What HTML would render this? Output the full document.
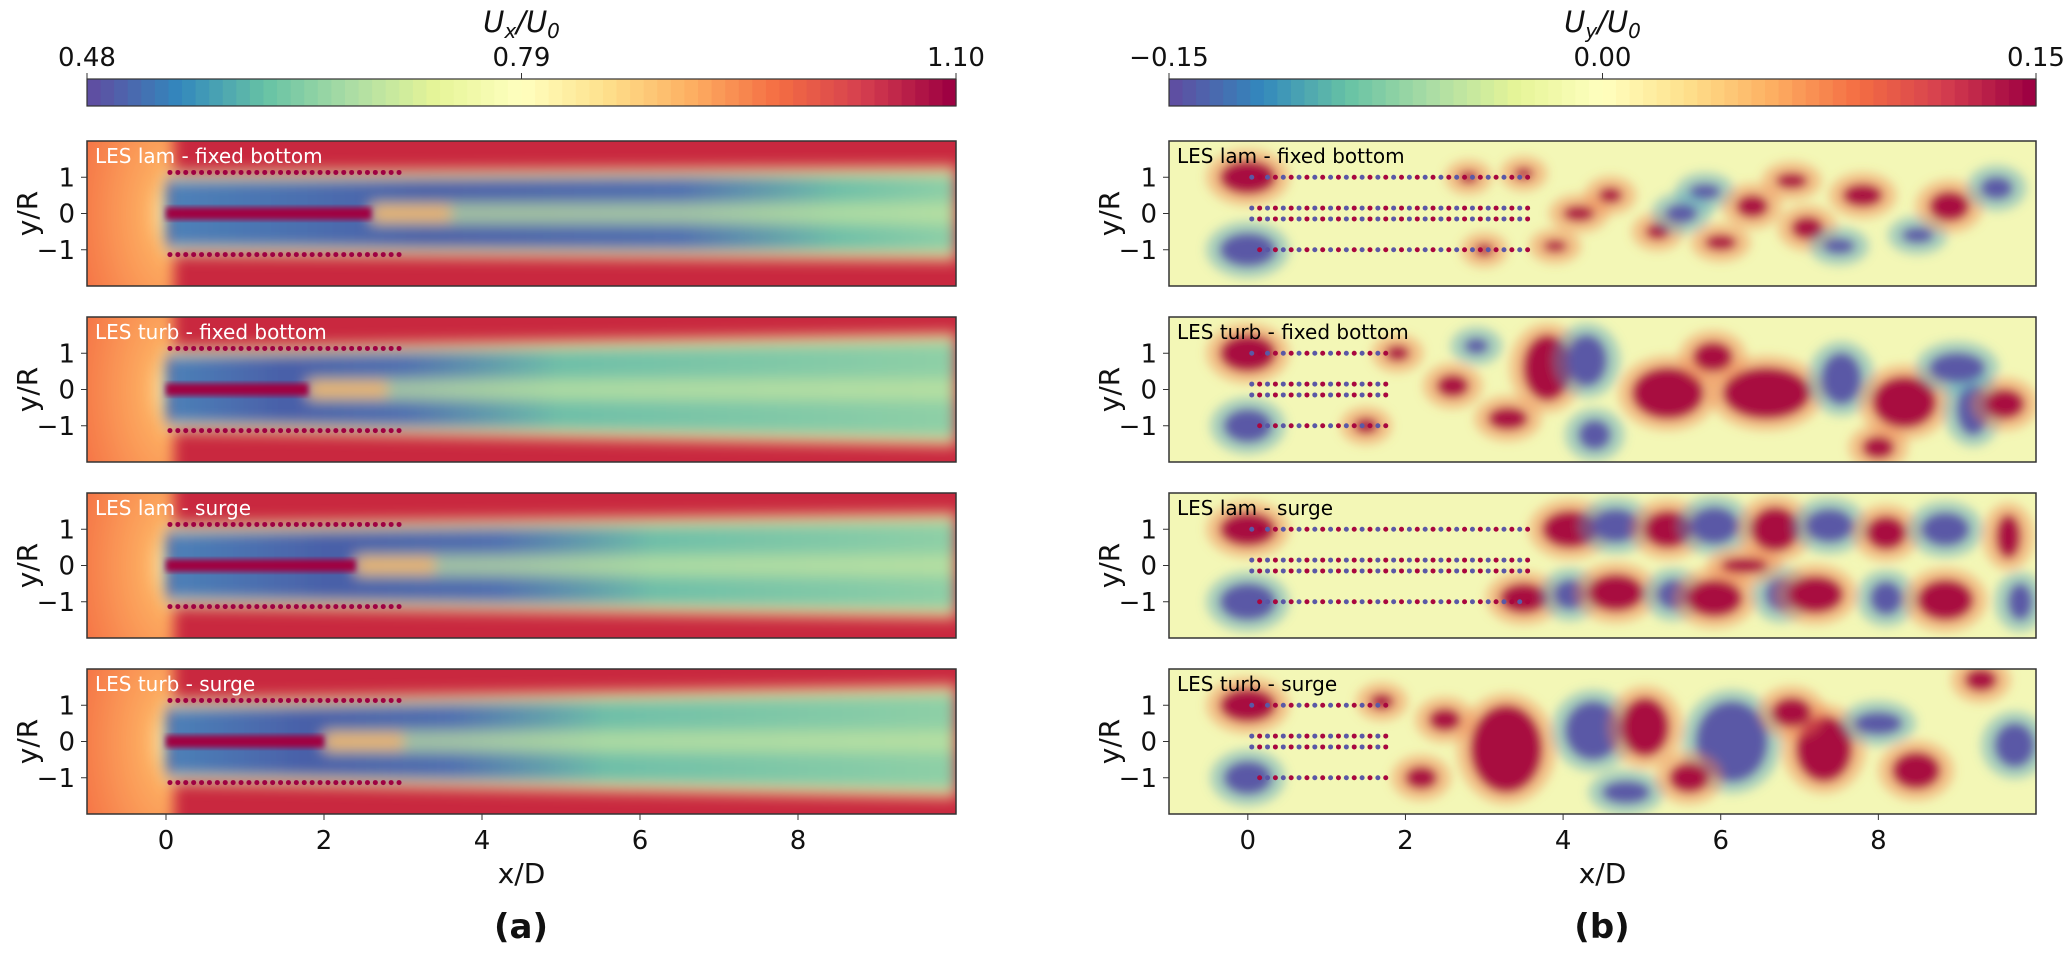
<!DOCTYPE html>
<html><head><meta charset="utf-8"><style>
html,body{margin:0;padding:0;background:#fff;}
body{width:2067px;height:949px;overflow:hidden;font-family:"DejaVu Sans","Liberation Sans",sans-serif;}
svg text{font-family:"DejaVu Sans","Liberation Sans",sans-serif;}
</style></head><body>
<svg id="fig" xmlns="http://www.w3.org/2000/svg" width="2067" height="949" viewBox="0 0 2067 949">
<defs>
<filter id="blur" x="-20%" y="-20%" width="140%" height="140%"><feGaussianBlur stdDeviation="7"/></filter>
<filter id="blur2" x="-20%" y="-20%" width="140%" height="140%"><feGaussianBlur stdDeviation="3"/></filter>
<filter id="blur3" x="-20%" y="-20%" width="140%" height="140%"><feGaussianBlur stdDeviation="5"/></filter>
<radialGradient id="haloL" cx="1" cy="0.5" r="1"><stop offset="0" stop-color="#ffffbf"/><stop offset="0.25" stop-color="#fdae61"/><stop offset="1" stop-color="#f46d43"/></radialGradient>
</defs>
<g id="root"></g>
</svg>
<script>
// axis data
const xTicks=[0,2,4,6,8];
const yTicks=[1,0,-1];
const uxTicks=["0.48","0.79","1.10"];
const uyTicks=["\u22120.15","0.00","0.15"];
const leftTitles=["LES lam - fixed bottom","LES turb - fixed bottom","LES lam - surge","LES turb - surge"];
// wake extents per left panel: x where blue core turns teal
const wakeBlueEnd=[6.5,3.0,4.2,3.6];
const jetEnd=[2.6,1.8,2.4,2.0];
// right-panel blobs [x/D, y/R, rx, ry, sign]
const blobsR=[
 [[0,1,0.35,0.45,1],[0,-1,0.35,0.45,-1],[4.6,0.5,0.15,0.2,1],[5.8,0.6,0.2,0.2,-1],[6.4,0.2,0.2,0.3,1],[7.1,-0.4,0.2,0.3,1],[7.8,0.5,0.25,0.3,1],[8.5,-0.6,0.2,0.2,-1],[8.9,0.2,0.25,0.4,1],[9.5,0.7,0.2,0.3,-1],[5.2,-0.5,0.15,0.2,1],[6.9,0.9,0.2,0.2,1],[7.5,-0.9,0.2,0.2,-1],[2.8,1.0,0.12,0.15,1],[3.5,1.1,0.12,0.15,1],[3.0,-1.0,0.12,0.15,1],[3.9,-0.9,0.15,0.15,1],[4.2,0.0,0.2,0.2,1],[5.5,0.0,0.2,0.25,-1],[6.0,-0.8,0.2,0.2,1]],
 [[0,1,0.35,0.5,1],[0,-1,0.3,0.45,-1],[3.8,0.6,0.3,0.9,1],[4.3,0.8,0.25,0.7,-1],[5.33,-0.1,0.45,0.7,1],[6.58,-0.1,0.55,0.7,1],[7.53,0.3,0.25,0.7,-1],[8.33,-0.35,0.4,0.7,1],[9.2,-0.55,0.2,0.7,-1],[9.6,-0.4,0.25,0.4,1],[4.4,-1.25,0.2,0.4,-1],[3.3,-0.8,0.25,0.3,1],[5.9,0.9,0.25,0.4,1],[9.0,0.6,0.35,0.4,-1],[8.0,-1.6,0.2,0.3,1],[2.6,0.1,0.2,0.3,1],[1.5,-1.0,0.15,0.2,1],[1.9,1.0,0.15,0.2,1],[2.9,1.2,0.15,0.2,-1]],
 [[0,1,0.35,0.45,1],[0,-1,0.35,0.5,-1],[4.09,1.0,0.35,0.5,1],[4.67,1.1,0.3,0.45,-1],[5.33,1.0,0.3,0.5,1],[5.92,1.1,0.3,0.5,-1],[6.69,1.0,0.3,0.6,1],[7.38,1.1,0.3,0.45,-1],[8.1,0.9,0.25,0.45,1],[8.85,1.0,0.3,0.45,-1],[9.65,0.8,0.15,0.6,1],[3.5,-0.9,0.3,0.4,1],[4.09,-0.8,0.2,0.4,-1],[4.67,-0.75,0.35,0.5,1],[5.4,-0.8,0.2,0.4,-1],[5.92,-0.9,0.35,0.5,1],[6.77,-0.8,0.2,0.45,-1],[7.2,-0.8,0.35,0.5,1],[8.1,-0.9,0.2,0.45,-1],[8.85,-0.95,0.35,0.55,1],[9.8,-1.0,0.15,0.5,-1],[6.3,0.0,0.3,0.2,1]],
 [[0,1,0.35,0.45,1],[0,-1,0.3,0.45,-1],[3.28,-0.2,0.45,1.2,1],[4.38,0.3,0.35,0.8,-1],[5.04,0.4,0.3,0.8,1],[6.14,0.0,0.45,1.1,-1],[7.31,-0.2,0.35,0.9,1],[9.73,-0.1,0.25,0.6,-1],[9.3,1.7,0.2,0.3,1],[8.48,-0.8,0.3,0.5,1],[4.8,-1.4,0.3,0.3,-1],[2.2,-1.0,0.2,0.3,1],[6.9,0.8,0.25,0.4,1],[8.0,0.5,0.3,0.3,-1],[5.6,-1.0,0.25,0.4,1],[2.5,0.6,0.2,0.3,1],[1.7,1.1,0.15,0.2,1]]
];
const NS='http://www.w3.org/2000/svg';
const root=document.getElementById('root');
function el(t,a,p){const e=document.createElementNS(NS,t);for(const k in a)e.setAttribute(k,a[k]);(p||root).appendChild(e);return e;}
function txt(s,a,p){const e=el('text',a,p);e.textContent=s;return e;}
const tops=[141,317,493,669],PH=145;
const L={x0:87,w:869},R={x0:1169,w:867};
function sx(P,x){return P.x0+(x+1)/11*P.w;}
function sy(top,y){return top+(2-y)/4*PH;}
const cmapCols=["#5e4fa2","#3288bd","#66c2a5","#abdda4","#e6f598","#ffffbf","#fee08b","#fdae61","#f46d43","#d53e4f","#9e0142"];

function colorbar(P,labels,title,name){
 const g=el('g',{});
 
 
 const n=64;
 for(let i=0;i<n;i++){
  const t=i/(n-1);const idx=t*(cmapCols.length-1);const a=Math.floor(idx);const b=Math.min(a+1,cmapCols.length-1);const f=idx-a;
  const mix=(h1,h2,f)=>{const p=s=>[1,3,5].map(j=>parseInt(s.substr(j,2),16));const A=p(h1),B=p(h2);return 'rgb('+A.map((v,k)=>Math.round(v+(B[k]-v)*f)).join(',')+')';};
  el('rect',{x:P.x0+i*P.w/n,y:79,width:P.w/n+0.6,height:27,fill:mix(cmapCols[a],cmapCols[b],f)},g);
 }
 el('rect',{x:P.x0,y:79,width:P.w,height:27,fill:'none',stroke:'#333','stroke-width':1.2},g);
 labels.forEach((s,i)=>{const x=P.x0+i*P.w/2;el('line',{x1:x,x2:x,y1:79,y2:73,stroke:'#333'},g);
  const t=txt(s,{x:x,y:66,'font-size':26,'text-anchor':'middle',fill:'#111'},g);
  });
 const tt=el('text',{x:P.x0+P.w/2,y:32,'font-size':29,'text-anchor':'middle','font-style':'italic',fill:'#111'},g);
 
 tt.innerHTML=title;
}
colorbar(L,uxTicks,'U<tspan font-size="20" dy="6">x</tspan><tspan dy="-6">/U</tspan><tspan font-size="20" dy="6">0</tspan>','ux-colorbar');
colorbar(R,uyTicks,'U<tspan font-size="20" dy="6">y</tspan><tspan dy="-6">/U</tspan><tspan font-size="20" dy="6">0</tspan>','uy-colorbar');

function axes(P,top,i,side){
 const g=el('g',{});
 
 
 const cid='clip'+side+i;
 const cp=el('clipPath',{id:cid},g);el('rect',{x:P.x0,y:top,width:P.w,height:PH},cp);
 const f=el('g',{'clip-path':'url(#'+cid+')'},g);
 
 
 return {g,f};
}
function frame(P,top,g,i,side,label,labelColor){
 el('rect',{x:P.x0,y:top,width:P.w,height:PH,fill:'none',stroke:'#333','stroke-width':1.5},g);
 const lt=txt(label,{x:P.x0+8,y:top+22,'font-size':20,fill:labelColor},g);
 
 yTicks.forEach(v=>{const y=sy(top,v);el('line',{x1:P.x0,x2:P.x0-6,y1:y,y2:y,stroke:'#333'},g);
  const t=txt(v<0?'\u2212'+(-v):String(v),{x:P.x0-12,y:y+9,'font-size':26,'text-anchor':'end',fill:'#111'},g);
  });
 const yl=txt('y/R',{x:0,y:0,'font-size':28,'text-anchor':'middle',fill:'#111',transform:'translate('+(P.x0-50)+','+(top+PH/2)+') rotate(-90)'},g);
 
 if(i===3){xTicks.forEach(v=>{const x=sx(P,v);el('line',{x1:x,x2:x,y1:top+PH,y2:top+PH+6,stroke:'#333'},g);
  const t=txt(String(v),{x:x,y:top+PH+35,'font-size':26,'text-anchor':'middle',fill:'#111'},g);
  });
  const xl=txt('x/D',{x:P.x0+P.w/2,y:883,'font-size':28,'text-anchor':'middle',fill:'#111'},g);
  }
}

// left panels
tops.forEach((top,i)=>{
 const P=L;const {g,f}=axes(P,top,i,'ux');
 el('rect',{x:P.x0,y:top,width:P.w,height:PH,fill:'#c9283f'},f);
 const up=el('g',{filter:'url(#blur)'},f);
 el('rect',{x:P.x0-20,y:top-20,width:sx(P,0.1)-P.x0+20,height:PH+40,fill:'url(#haloL)'},up);
 const wg=el('g',{filter:'url(#blur)'},f);
 const gid='wk'+i;
 const lg=el('linearGradient',{id:gid,x1:0,x2:1,y1:0,y2:0},f);
 const be=(wakeBlueEnd[i])/10;
 el('stop',{offset:0,'stop-color':'#4d82b8'},lg);
 el('stop',{offset:be*0.5,'stop-color':'#4a5fa8'},lg);
 el('stop',{offset:be,'stop-color':'#4f6fb0'},lg);
 el('stop',{offset:Math.min(be+0.2,0.95),'stop-color':'#6fbfa8'},lg);
 el('stop',{offset:1,'stop-color':'#8fd0a6'},lg);
 const spread=i===0?0.1:(i===2?0.25:0.35);
 el('path',{d:'M'+sx(P,0)+','+sy(top,1.05)+' L'+sx(P,10)+','+sy(top,1.05+spread)+' L'+sx(P,10)+','+sy(top,-1.05-spread)+' L'+sx(P,0)+','+sy(top,-1.05)+' Z',fill:'url(#'+gid+')'},wg);
 el('line',{x1:sx(P,0),x2:sx(P,10),y1:sy(top,1.05),y2:sy(top,1.1+spread),stroke:'#f4e89a','stroke-width':9,opacity:0.8},wg);
 el('line',{x1:sx(P,0),x2:sx(P,10),y1:sy(top,-1.05),y2:sy(top,-1.1-spread),stroke:'#f4e89a','stroke-width':9,opacity:0.8},wg);
 // central mixing band
 el('rect',{x:sx(P,jetEnd[i]),y:sy(top,0.3),width:sx(P,10)-sx(P,jetEnd[i]),height:sy(top,-0.3)-sy(top,0.3),fill:'#c4e6a0',opacity:0.7},wg);
 el('rect',{x:sx(P,jetEnd[i]),y:sy(top,0.2),width:79,height:sy(top,-0.2)-sy(top,0.2),fill:'#f7b060',opacity:0.9},wg);
 el('rect',{x:sx(P,0),y:sy(top,0.17),width:sx(P,jetEnd[i])-sx(P,0),height:sy(top,-0.17)-sy(top,0.17),fill:'#a0043f',filter:'url(#blur2)'},f);
 el('line',{x1:sx(P,0),x2:sx(P,0),y1:sy(top,1.1),y2:sy(top,-1.1),stroke:'#f0f4a0','stroke-width':5,filter:'url(#blur2)'},f);
 // tip vortex dots at wake edges
 [1.05,-1.05].forEach(yv=>{for(let k=0;k<30;k++){el('circle',{cx:sx(P,0.05+k*0.1),cy:sy(top,yv)+(yv>0?-3:3),r:2.5,fill:'#9e0142'},f);}});
 frame(P,top,g,i,'ux',leftTitles[i],'#fff');
});

// right panels
tops.forEach((top,i)=>{
 const P=R;const {g,f}=axes(P,top,i,'uy');
 el('rect',{x:P.x0,y:top,width:P.w,height:PH,fill:'#f3f7b6'},f);
 const bg=el('g',{filter:'url(#blur3)'},f);
 blobsR[i].forEach(b=>{
  el('ellipse',{cx:sx(P,b[0]),cy:sy(top,b[1]),rx:b[2]*79+14,ry:b[3]*36.25+12,fill:b[4]>0?'#f08050':'#4fa0c0',opacity:0.45},bg);
  const e=el('ellipse',{cx:sx(P,b[0]),cy:sy(top,b[1]),rx:b[2]*79,ry:b[3]*36.25,fill:b[4]>0?'#a8073f':'#5a58a6'},bg);
  
  
 });
 [1,0.15,-0.15,-1].forEach(yv=>{
  const n=i===2?36:(i===0?36:18);
  for(let k=0;k<n;k++){const xv=0.05+k*0.1;
   el('circle',{cx:sx(P,xv),cy:sy(top,yv),r:2.5,fill:k%2?'#a8073f':'#5a58a6'},f);}
 });
 frame(P,top,g,i,'uy',leftTitles[i],'#000');
});
const pa=txt('(a)',{x:521,y:938,'font-size':34,'font-weight':'bold','text-anchor':'middle',fill:'#111'});

const pb=txt('(b)',{x:1602,y:938,'font-size':34,'font-weight':'bold','text-anchor':'middle',fill:'#111'});

</script>
</body></html>
